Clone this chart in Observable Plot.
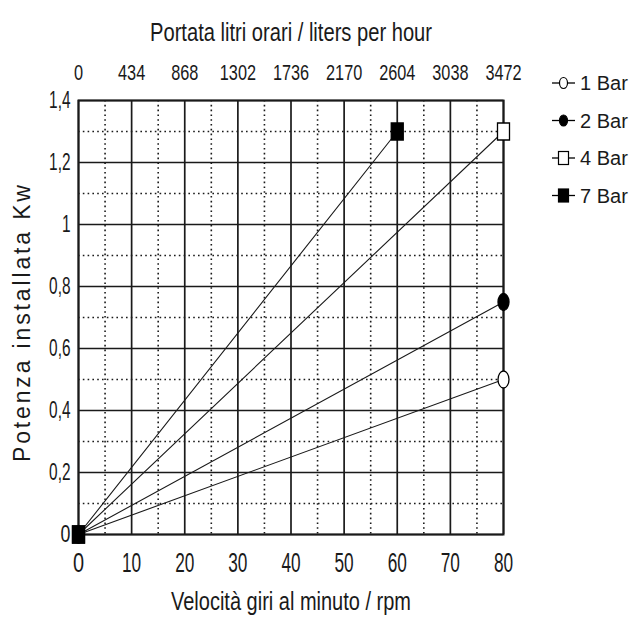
<!DOCTYPE html>
<html><head><meta charset="utf-8">
<script src="https://cdn.jsdelivr.net/npm/d3@7"></script>
<script src="https://cdn.jsdelivr.net/npm/@observablehq/plot@0.6"></script>
<style>
body{margin:0;background:#fff;}
#wrap{position:relative;width:633px;height:629px;}
#legend{position:absolute;left:546px;top:64px;overflow:visible;}
</style></head>
<body>
<div id="wrap"><div id="chart"></div><svg id="legend" width="86" height="150"></svg></div>
<script>
// ---- data ----
const seriesNames = ["1 Bar", "2 Bar", "4 Bar", "7 Bar"];
const bar1Rpm = [0, 80], bar1Kw = [0, 0.5];
const bar2Rpm = [0, 80], bar2Kw = [0, 0.75];
const bar4Rpm = [0, 80], bar4Kw = [0, 1.3];
const bar7Rpm = [0, 60], bar7Kw = [0, 1.3];
const xTicks = [0, 10, 20, 30, 40, 50, 60, 70, 80];
const litersLabels = ["0", "434", "868", "1302", "1736", "2170", "2604", "3038", "3472"];
const xMinor = [5, 15, 25, 35, 45, 55, 65, 75];
const yTicks = [0, 0.2, 0.4, 0.6, 0.8, 1, 1.2, 1.4];
const yLabels = ["0", "0,2", "0,4", "0,6", "0,8", "1", "1,2", "1,4"];
const yMinor = [0.1, 0.3, 0.5, 0.7, 0.9, 1.1, 1.3];
const topTitle = "Portata litri orari / liters per hour";
const bottomTitle = "Velocità giri al minuto / rpm";
const yTitle = "Potenza installata Kw";
const shapes = ["circle", "circle", "square", "square"];
const fills = ["white", "black", "white", "black"];

const rpmArr = [bar1Rpm, bar2Rpm, bar4Rpm, bar7Rpm];
const kwArr = [bar1Kw, bar2Kw, bar4Kw, bar7Kw];
const rows = [];
seriesNames.forEach((s, k) => rpmArr[k].forEach((r, i) => rows.push({series: s, k, rpm: r, kw: kwArr[k][i]})));

const ink = "#1a1a1a";
const sans = '"Liberation Sans",Arial,sans-serif';

// tall, narrow marker shapes
function ellipseSymbol(rx, ry) {
  const c = 0.5523;
  return {draw(ctx) {
    ctx.moveTo(rx, 0);
    ctx.bezierCurveTo(rx, ry * c, rx * c, ry, 0, ry);
    ctx.bezierCurveTo(-rx * c, ry, -rx, ry * c, -rx, 0);
    ctx.bezierCurveTo(-rx, -ry * c, -rx * c, -ry, 0, -ry);
    ctx.bezierCurveTo(rx * c, -ry, rx, -ry * c, rx, 0);
    ctx.closePath();
  }};
}
function rectSymbol(hw, hh) {
  return {draw(ctx) { ctx.moveTo(-hw, -hh); ctx.lineTo(hw, -hh); ctx.lineTo(hw, hh); ctx.lineTo(-hw, hh); ctx.closePath(); }};
}
const symObj = [ellipseSymbol(5.5, 8.5), ellipseSymbol(5.5, 8.5), rectSymbol(6, 8.5), rectSymbol(6, 8.5)];

const dotMarks = seriesNames.map((s, k) =>
  Plot.dot(rows.filter(d => d.k === k), {x: "rpm", y: "kw", symbol: symObj[k], fill: fills[k], stroke: "black", strokeWidth: 1.3, r: 6}));

const chart = Plot.plot({
  width: 633, height: 629,
  marginLeft: 78, marginRight: 130, marginTop: 100, marginBottom: 95,
  style: {fontFamily: sans, fontSize: "24px", color: ink, background: "white"},
  x: {domain: [0, 80]},
  y: {domain: [0, 1.4]},
  marks: [
    Plot.ruleX(xMinor, {stroke: ink, strokeWidth: 1.6, strokeDasharray: "1.6,3.2"}),
    Plot.ruleY(yMinor, {stroke: ink, strokeWidth: 1.6, strokeDasharray: "1.6,3.2"}),
    Plot.ruleX(xTicks, {stroke: ink, strokeWidth: 1.7}),
    Plot.ruleY(yTicks, {stroke: ink, strokeWidth: 1.7}),
    Plot.frame({stroke: ink, strokeWidth: 2}),
    Plot.line(rows, {x: "rpm", y: "kw", z: "series", stroke: ink, strokeWidth: 1.1}),
    ...dotMarks,
    Plot.axisX({anchor: "bottom", ticks: xTicks, tickSize: 0, tickPadding: 18, label: null, fontSize: 27}),
    Plot.axisX({anchor: "top", ticks: xTicks, tickSize: 0, tickPadding: 21, label: null, fontSize: 22,
      tickFormat: d => litersLabels[xTicks.indexOf(d)]}),
    Plot.axisY({ticks: yTicks, tickSize: 0, tickPadding: 8, label: null, fontSize: 24,
      tickFormat: d => yLabels[yTicks.indexOf(d)]}),
    Plot.text([topTitle], {frameAnchor: "top", dy: -78, fontSize: 26, fill: ink}),
    Plot.text([bottomTitle], {frameAnchor: "bottom", dy: 75, fontSize: 26, fill: ink}),
    Plot.text([yTitle], {frameAnchor: "left", textAnchor: "middle", dx: -56, dy: 6, rotate: -90, fontSize: 23, fill: ink})
  ]
});
document.getElementById("chart").appendChild(chart);

// emulate a tall condensed typeface
function squeeze(el, ratio) {
  const len = el.getComputedTextLength();
  el.setAttribute("textLength", (len * ratio).toFixed(1));
  el.setAttribute("lengthAdjust", "spacingAndGlyphs");
}
d3.select(chart).selectAll("text").each(function() {
  const t = this.textContent;
  if (t === yTitle) { this.setAttribute("textLength", 277); this.setAttribute("lengthAdjust", "spacing"); }
  else if (t === topTitle) { this.setAttribute("textLength", 282); this.setAttribute("lengthAdjust", "spacingAndGlyphs"); }
  else if (t === bottomTitle) { this.setAttribute("textLength", 240); this.setAttribute("lengthAdjust", "spacingAndGlyphs"); }
  else if (litersLabels.includes(t)) squeeze(this, 0.74);
  else squeeze(this, 0.64);
});

// legend
const leg = d3.select("#legend");
seriesNames.forEach((s, k) => {
  const g = leg.append("g").attr("transform", `translate(0,${19 + k * 37.5})`);
  g.append("line").attr("x1", 6).attr("x2", 29).attr("stroke", "black").attr("stroke-width", 1.3);
  if (shapes[k] === "circle") g.append("ellipse").attr("cx", 17.5).attr("rx", 4).attr("ry", 5.5).attr("fill", fills[k]).attr("stroke", "black").attr("stroke-width", 1.2);
  else g.append("rect").attr("x", 12.5).attr("y", -6.5).attr("width", 10).attr("height", 13).attr("fill", fills[k]).attr("stroke", "black").attr("stroke-width", 1.2);
  g.append("text").attr("x", 34).attr("y", 7).attr("font-family", sans).attr("font-size", 20).attr("fill", ink).text(s);
});
</script>
</body></html>
